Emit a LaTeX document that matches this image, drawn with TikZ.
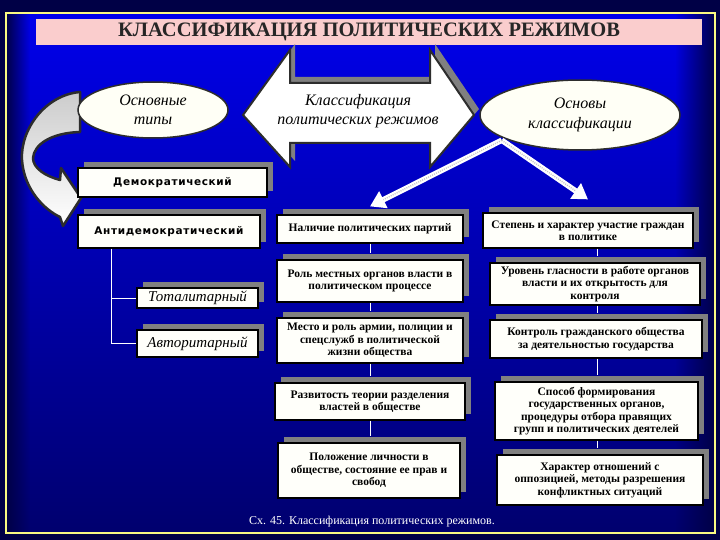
\documentclass[tikz,border=0pt]{standalone}
\usepackage{fontspec}
\setmainfont{Liberation Serif}
\newfontfamily\dvs[LetterSpace=6]{DejaVu Sans}
\usetikzlibrary{shapes.geometric,shadows,arrows.meta,fadings}
\definecolor{bgdark}{RGB}{0,0,70}
\definecolor{blueTop}{RGB}{0,0,235}
\definecolor{blueMid}{RGB}{0,0,205}
\definecolor{blueBot}{RGB}{0,0,110}
\definecolor{yel}{RGB}{250,250,130}
\definecolor{pinkc}{RGB}{250,205,205}
\definecolor{shadowg}{RGB}{128,128,128}
\definecolor{boxw}{RGB}{255,255,250}
\definecolor{outl}{RGB}{45,45,45}
\definecolor{ellw}{RGB}{255,255,246}
\tikzfading[name=fadeR, left color=transparent!100, right color=transparent!0]
\tikzfading[name=fadeL, left color=transparent!0, right color=transparent!100]
\tikzset{
  box/.style={draw=black, line width=1.2pt, fill=boxw, inner sep=2pt, align=center,
    font=\bfseries\fontsize{11.5}{12.5}\selectfont,
    drop shadow={shadow xshift=6pt, shadow yshift=6pt, fill=shadowg, opacity=1}},
  sbox/.style={box, font=\dvs\bfseries\fontsize{10.5}{12}\selectfont},
  ibox/.style={box, font=\itshape\fontsize{15}{15}\selectfont},
  ell/.style={ellipse, draw=outl, line width=1.5pt, fill=ellw, inner sep=0pt, align=center,
    font=\itshape\fontsize{16}{19.5}\selectfont},
  conn/.style={draw=white, line width=0.9pt},
  warr/.style={draw=white, line width=5.5pt, -{Triangle[width=18pt,length=15pt]}},
  wdot/.style={draw=gray!45, line width=1.3pt, dash pattern=on 1pt off 1.2pt, shorten >=15pt}
}
\begin{document}
\begin{tikzpicture}[x=1pt,y=-1pt]
\useasboundingbox (0,0) rectangle (720,540);
% background
\fill[bgdark] (0,0) rectangle (720,540);
\shade[top color=blueTop, middle color=blueMid, bottom color=blueBot] (6,13) rectangle (715,533);
\fill[bgdark, path fading=fadeR] (675,13) rectangle (715,533);
\fill[bgdark, path fading=fadeL] (6,13) rectangle (30,533);
\draw[yel, line width=2.5pt] (6,13) rectangle (715,533);
% title
\node[fill=pinkc, minimum width=666pt, minimum height=26pt, inner sep=0pt,
  font=\bfseries\fontsize{20.5}{21}\selectfont, text=black!85] (title) at (369,32)
  {КЛАССИФИКАЦИЯ ПОЛИТИЧЕСКИХ РЕЖИМОВ};
% curved arrow
\shade[top color=gray!40, bottom color=white, draw=outl, line width=2.5pt, line join=round]
  (80,92) .. controls (45,95) and (20,130) .. (22,160)
  .. controls (24,190) and (45,210) .. (60,217) -- (63,226) -- (81,198) -- (61,168) -- (60,180)
  .. controls (45,176) and (33,168) .. (33,158)
  .. controls (34,145) and (50,133) .. (80,132) -- cycle;
% double arrow
\fill[shadowg, xshift=5pt, yshift=6pt]
  (243,115) -- (290,50) -- (290,83) -- (430,83) -- (430,50) -- (474,115)
  -- (430,167) -- (430,143) -- (290,143) -- (290,167) -- cycle;
\filldraw[fill=white, draw=outl, line width=2pt, line join=miter]
  (243,115) -- (290,50) -- (290,83) -- (430,83) -- (430,50) -- (474,115)
  -- (430,167) -- (430,143) -- (290,143) -- (290,167) -- cycle;
\node[align=center, font=\itshape\fontsize{16}{19.5}\selectfont] (cls) at (358,111)
  {Классификация\\политических режимов};
% ellipses
\node[ell, minimum width=150pt, minimum height=56pt] (e1) at (153,110) {Основные\\типы};
\node[ell, minimum width=200pt, minimum height=70pt] (e2) at (580,115) {Основы\\классификации};
% left boxes
\node[sbox, minimum width=189pt, minimum height=29pt] (demo) at (172.5,182.5) {Демократический};
\node[sbox, minimum width=182pt, minimum height=33pt] (anti) at (169,231.5) {Антидемократический};
\node[ibox, minimum width=121pt, minimum height=20pt, inner sep=0pt] (total) at (197.5,298) {Тоталитарный};
\node[ibox, minimum width=121pt, minimum height=27pt] (avto) at (197.5,343.5) {Авторитарный};
\coordinate (tr) at ([xshift=34pt]anti.south west);
\draw[conn] (tr) -- (tr |- avto.west) -- (avto.west);
\draw[conn] (tr |- total.west) -- (total.west);
% middle boxes
\node[box, minimum width=186pt, minimum height=28pt] (m1) at (370,229) {Наличие политических партий};
\node[box, minimum width=186pt, minimum height=42pt] (m2) at (370,281) {Роль местных органов власти в\\политическом процессе};
\node[box, minimum width=186pt, minimum height=45pt] (m3) at (370,340.5) {Место и роль армии, полиции и\\спецслужб в политической\\жизни общества};
\node[box, minimum width=190pt, minimum height=37pt] (m4) at (370,401.5) {Развитость теории разделения\\властей в обществе};
\node[box, minimum width=182pt, minimum height=55pt] (m5) at (369,470.5) {Положение личности в\\обществе, состояние ее прав и\\свобод};
\draw[conn] (m1.south) -- ([yshift=6pt]m1.south |- m2.north);
\draw[conn] (m2.south) -- ([yshift=6pt]m2.south |- m3.north);
\draw[conn] (m3.south) -- ([yshift=6pt]m3.south |- m4.north);
\draw[conn] (m4.south) -- ([yshift=6pt]m4.south |- m5.north);
% right boxes
\node[box, minimum width=210pt, minimum height=35pt] (r1) at (588,230.5) {Степень и характер участие граждан\\в политике};
\node[box, minimum width=210pt, minimum height=42pt] (r2) at (595,284) {Уровень гласности в работе органов\\власти и их открытость для\\контроля};
\node[box, minimum width=212pt, minimum height=38pt] (r3) at (596,339) {Контроль гражданского общества\\за деятельностью государства};
\node[box, minimum width=203pt, minimum height=58pt] (r4) at (596.5,411) {Способ формирования\\государственных органов,\\процедуры отбора правящих\\групп и политических деятелей};
\node[box, minimum width=206pt, minimum height=50pt] (r5) at (600,480) {Характер отношений с\\оппозицией, методы разрешения\\конфликтных ситуаций};
\coordinate (rx) at (597,0);
\draw[conn] (rx |- r1.south) -- ([yshift=6pt]rx |- r2.north);
\draw[conn] (rx |- r2.south) -- ([yshift=6pt]rx |- r3.north);
\draw[conn] (rx |- r3.south) -- ([yshift=6pt]rx |- r4.north);
\draw[conn] (rx |- r4.south) -- ([yshift=6pt]rx |- r5.north);
% white arrows
\coordinate (vs) at ([xshift=-7pt]e2.south west);
\draw[warr] (vs) -- ([yshift=8pt]m1.north);
\draw[warr] (vs) -- ([yshift=13pt]r1.north);
\draw[wdot] (vs) -- ([yshift=8pt]m1.north);
\draw[wdot] (vs) -- ([yshift=13pt]r1.north);
% caption
\node[text=white, font=\fontsize{12}{12}\selectfont] (cap) at (372,522)
  {Сх. 45. Классификация политических режимов.};
\end{tikzpicture}
\end{document}
